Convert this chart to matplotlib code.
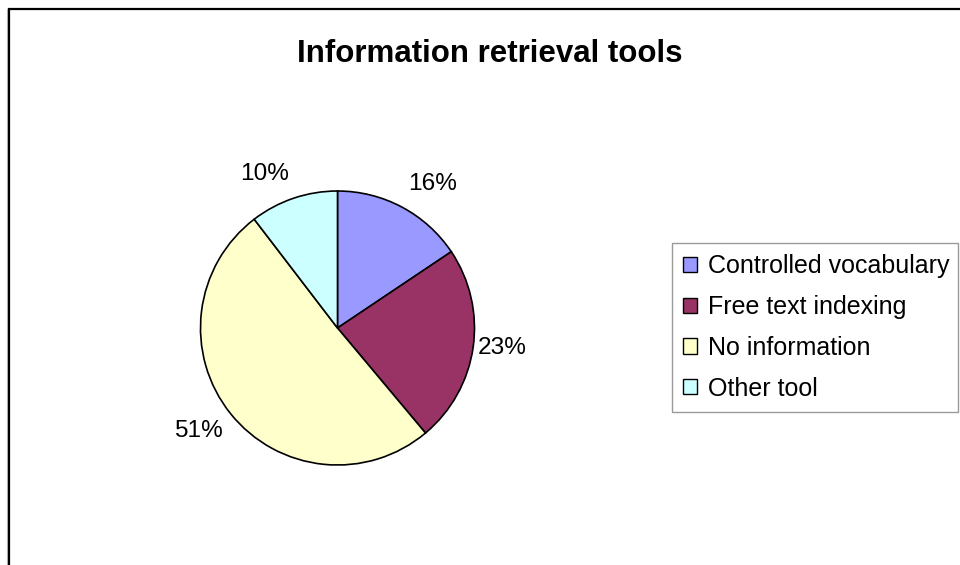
import numpy as np
import matplotlib.pyplot as plt
from matplotlib.patches import Rectangle

plt.rcParams['font.family'] = ['Liberation Sans', 'DejaVu Sans']

categories = ['Controlled vocabulary', 'Free text indexing', 'No information', 'Other tool']
values = [15.6, 23.3, 50.7, 10.4]
colors = ['#9999FF', '#993366', '#FFFFCC', '#CCFFFF']

W, H = 960, 565
fig = plt.figure(figsize=(W / 100, H / 100), dpi=100)

# outer chart frame (runs off right/bottom edge)
fig.patches.append(Rectangle((7 / W, -0.1), 1.2, 1 - 7 / H + 0.1 - 1.5 / H,
                             transform=fig.transFigure, fill=False,
                             edgecolor='#c0c0c0', linewidth=0.8))
fig.patches.append(Rectangle((9 / W, -0.1), 1.2, 1 - 9 / H + 0.1,
                             transform=fig.transFigure, fill=False,
                             edgecolor='black', linewidth=1.6))

fig.text(490 / W, 1 - 62 / H, 'Information retrieval tools', ha='center',
         va='baseline', fontsize=22.5, fontweight='bold')

# pie axes: centre (337.5, 328), radius 137 px
cx, cy, R = 337.5, 328, 137
ax = fig.add_axes([(cx - R) / W, 1 - (cy + R) / H, 2 * R / W, 2 * R / H])
wedges, _ = ax.pie(values, colors=colors, startangle=90, counterclock=False,
                   radius=1, wedgeprops=dict(edgecolor='black', linewidth=1.2))
ax.set_xlim(-1, 1)
ax.set_ylim(-1, 1)
ax.set_aspect('auto')
ax.axis('off')

total = sum(values)
for w, v in zip(wedges, values):
    th = np.deg2rad((w.theta1 + w.theta2) / 2)
    x, y = np.cos(th), np.sin(th)
    r = 1.02 + 0.09 * abs(y)
    ha = 'left' if x > 0 else 'right'
    va = 'bottom' if y > 0.3 else ('top' if y < -0.3 else 'center')
    ax.text(r * x, r * y, f'{v / total * 100:.0f}%', ha=ha, va=va,
            fontsize=17.6, clip_on=False)

leg = fig.legend(wedges, categories, loc='upper left',
                 bbox_to_anchor=(672 / W, 1 - 412 / H, (958 - 672) / W, (412 - 243) / H),
                 mode='expand', borderaxespad=0, fontsize=18, frameon=True,
                 fancybox=False, edgecolor='#808080', borderpad=0.45,
                 labelspacing=0.67, handlelength=0.56, handleheight=0.56,
                 handletextpad=0.45)
leg.get_frame().set_linewidth(1.0)
for h in leg.legend_handles:
    h.set_linewidth(1.0)

fig.savefig('out.png', dpi=100)
